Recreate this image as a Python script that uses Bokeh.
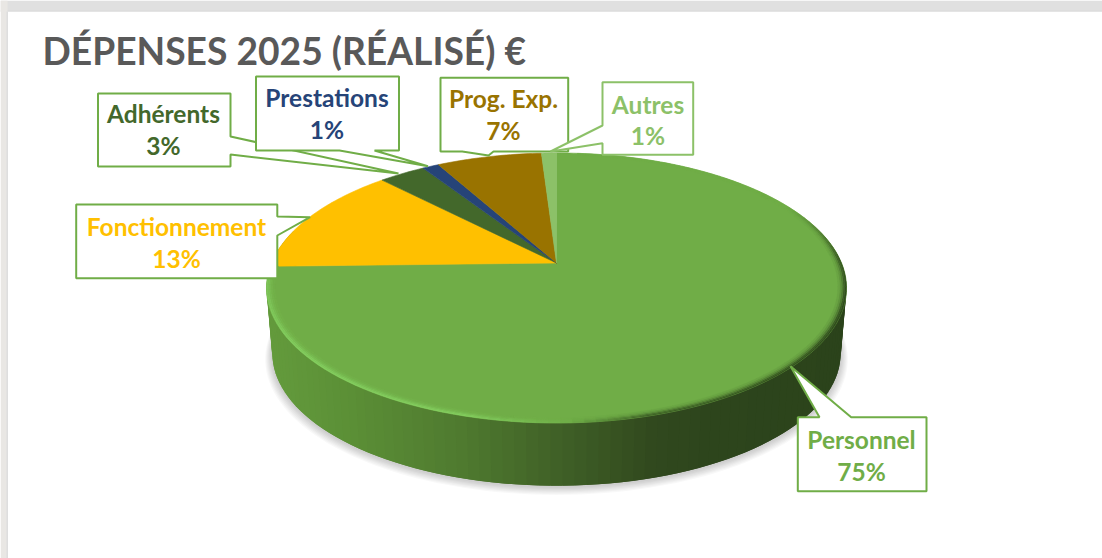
import numpy as np
from bokeh.core.properties import value
from bokeh.embed import file_html
from bokeh.models import Range1d
from bokeh.plotting import figure
from bokeh.resources import INLINE

title = "DÉPENSES 2025 (RÉALISÉ) €"
categories = ["Personnel", "Fonctionnement", "Adhérents", "Prestations", "Prog. Exp.", "Autres"]
shares = [74.6, 13.2, 3.1, 1.1, 7.0, 1.0]
slice_colors = ["#70ad47", "#ffc000", "#43682b", "#264478", "#997300", "#8cc168"]

# layout of the callouts: box (left, right, top, bottom), pointer polygon section
callouts = {
    "Adhérents": dict(box=(97.5, 230, 93, 166), side="right", p=[(230, 136), (398, 173), (230, 154)], cx=163, cy=(112.5, 144.5)),
    "Prestations": dict(box=(255.5, 398.5, 76, 150), side="bottom", p=[(374, 150), (427.5, 165.7), (339, 150)], cx=326.5, cy=(96.5, 128.5)),
    "Prog. Exp.": dict(box=(440, 567.7, 77.3, 151), side="bottom", p=[(493, 151), (488, 155), (461.7, 151)], cx=503, cy=(97.5, 129.5)),
    "Autres": dict(box=(602, 692.7, 81.7, 154.3), side="left", p=[(602, 142.7), (550, 151), (602, 125)], cx=647.5, cy=(103.5, 134.5)),
    "Fonctionnement": dict(box=(75.7, 276.8, 204, 277.7), side="right", p=[(276.8, 216), (309.6, 216.7), (276.8, 235)], cx=176, cy=(225.5, 257.5)),
    "Personnel": dict(box=(797.3, 926, 416.7, 490.7), side="top", p=[(819, 416.7), (790, 365.7), (850.7, 416.7)], cx=861, cy=(438.5, 470.5)),
}
draw_order = ["Adhérents", "Prestations", "Fonctionnement", "Prog. Exp.", "Autres", "Personnel"]

CX, CY, A, B, K = 556.0, 262.5, 130.4, 285.0, 0.185
DEPTH, BOT_SCALE = 66.0, 0.98


def proj(theta, s=1.0, dy=0.0, scale=1.0):
    u, v = s * np.sin(theta), s * np.cos(theta)
    w = 1 + K * v
    return CX + scale * B * u / w, CY + dy + scale * A * -v / w


def hex2rgb(h):
    return np.array([int(h[i:i + 2], 16) for i in (1, 3, 5)], float)


def rgb2hex(c):
    return "#%02x%02x%02x" % tuple(int(round(x)) for x in c)


def ramp(x, xs, cols):
    arr = np.array([hex2rgb(c) for c in cols])
    return np.array([np.interp(x, xs, arr[:, i]) for i in range(3)])


p = figure(width=1102, height=558, output_backend="svg", toolbar_location=None,
           x_range=Range1d(0, 1102), y_range=Range1d(558, 0), min_border=0)
p.axis.visible = False
p.grid.visible = False
p.outline_line_color = None
p.background_fill_color = "white"
p.border_fill_color = "white"

# window behind the panel
p.quad(left=[0], right=[1102], top=[0], bottom=[11], fill_color="#e0e0e0", line_color=None)
p.quad(left=[0], right=[1102], top=[10], bottom=[11], fill_color="#d9d9d9", line_color=None)
p.quad(left=[0], right=[7], top=[0], bottom=[558], fill_color="#e9e7e4", line_color=None)
p.quad(left=[6], right=[7.5], top=[11], bottom=[558], fill_color="#dedede", line_color=None)

# soft shadow
ring = np.linspace(0, 2 * np.pi, 181)
for k in range(1, 8):
    sx, sy = proj(ring, dy=DEPTH + 1.0 + 0.6 * k, scale=BOT_SCALE + 0.0035 * k)
    p.patch(sx, sy, fill_color="black", fill_alpha=0.028, line_color=None)

# side wall: each strip runs under the next one, so no seams show
xs_wall = [268, 340, 440, 533, 640, 700, 850]
cols_wall = ["#639a3c", "#5b8f36", "#507c30", "#426428", "#31491e", "#2d451c", "#2b431b"]
front = np.radians(np.linspace(285, 75, 106))
step = front[1] - front[0]
wx, wy, wc = [], [], []
for t0, t1 in zip(front[:-1], front[1:]):
    t2 = t1 + step
    x0, y0 = proj(t0)
    x1, y1 = proj(t2)
    x2, y2 = proj(t2, dy=DEPTH, scale=BOT_SCALE)
    x3, y3 = proj(t0, dy=DEPTH, scale=BOT_SCALE)
    wx.append([x0, x1, x2, x3])
    wy.append([y0, y1, y2, y3])
    wc.append(rgb2hex(ramp(proj((t0 + t1) / 2)[0], xs_wall, cols_wall)))
p.patches(wx[::-1], wy[::-1], fill_color=wc[::-1], line_color=None)

# top surface, one wedge per value
fracs = np.cumsum([0] + shares) / sum(shares)
for start, stop, col in zip(fracs[:-1], fracs[1:], slice_colors):
    th = np.linspace(start, stop, max(6, int((stop - start) * 360))) * 2 * np.pi
    ex, ey = proj(th)
    p.patch(np.r_[CX, ex], np.r_[CY, ey], fill_color=col, line_color=col, line_width=0.6)

# bevel around the rim of the large slice
ang = [0, 62, 88, 105, 135, 165, 178, 195, 230, 270]
rim = ["#70ad47", "#70ad47", "#3a5a24", "#2f4a1e", "#34511f", "#3d6026", "#6fae48", "#84cf60", "#84cf60", "#7cc257"]
face = hex2rgb("#70ad47")
profile = [(1.000, 0.9945, 1.0), (0.9945, 0.989, 0.85), (0.989, 0.983, 0.5),
           (0.983, 0.977, 0.25), (0.977, 0.971, 0.1)]
seg = np.radians(np.linspace(5, fracs[1] * 360, 134))
bx, by, bc = [], [], []
for s0, s1, w in profile:
    for t0, t1 in zip(seg[:-1], seg[1:]):
        x0, y0 = proj(t0, s=s0)
        x1, y1 = proj(t1, s=s0)
        x2, y2 = proj(t1, s=s1)
        x3, y3 = proj(t0, s=s1)
        c = ramp(np.degrees((t0 + t1) / 2), ang, rim)
        bx.append([x0, x1, x2, x3])
        by.append([y0, y1, y2, y3])
        bc.append(rgb2hex(face + (c - face) * w))
p.patches(bx, by, fill_color=bc, line_color=bc, line_width=0.3)

# callouts
BORDER = "#70ad47"
for name in draw_order:
    c = callouts[name]
    l, r, t, b = c["box"]
    pts = c["p"]
    if c["side"] == "right":
        poly = [(l, t), (r, t), *pts, (r, b), (l, b)]
    elif c["side"] == "bottom":
        poly = [(l, t), (r, t), (r, b), *pts, (l, b)]
    elif c["side"] == "left":
        poly = [(l, t), (r, t), (r, b), (l, b), *pts]
    else:
        poly = [(l, t), *pts, (r, t), (r, b), (l, b)]
    xy = list(zip(*poly))
    col = "#8cc168" if name == "Autres" else BORDER
    p.patch(list(xy[0]), list(xy[1]), fill_color="white", line_color=col, line_width=2)

for name, share, col in zip(categories, shares, slice_colors):
    c = callouts[name]
    p.text([c["cx"], c["cx"]], list(c["cy"]), text=[name, f"{round(share)}%"], text_color=col,
           text_font=value("Lato"), text_font_style="bold", text_font_size="24.5px",
           text_align="center", text_baseline="middle")

p.text([42], [49.5], text=[title], text_color="#595959", text_font=value("Lato"),
       text_font_style="bold", text_font_size="37.2px", text_align="left", text_baseline="middle")

open("out.html", "w").write(file_html(p, INLINE))
